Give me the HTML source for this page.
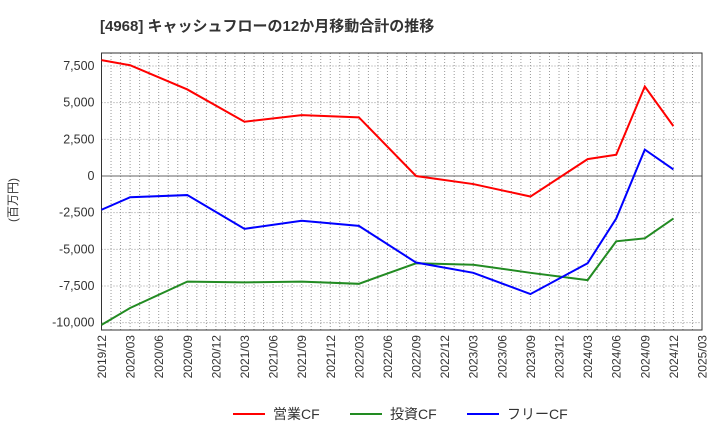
<!DOCTYPE html>
<html><head><meta charset="utf-8"><style>
body{margin:0;background:#fff;font-family:"Liberation Sans","Noto Sans CJK JP",sans-serif;}
</style></head><body>
<svg width="720" height="440" xmlns="http://www.w3.org/2000/svg">
<text x="100" y="31" font-size="15" font-weight="bold" fill="#333">[4968]  キャッシュフローの12か月移動合計の推移</text>
<text transform="translate(17,200) rotate(-90)" text-anchor="middle" font-size="12" fill="#333">(百万円)</text>
<g id="grid"></g><g id="axes"></g><g id="series"></g>
<g font-size="14" fill="#333">
<line x1="233" y1="414" x2="265" y2="414" stroke="#f00" stroke-width="2"/><text x="273" y="419">営業CF</text>
<line x1="350" y1="414" x2="382" y2="414" stroke="#228b22" stroke-width="2"/><text x="390" y="419">投資CF</text>
<line x1="467" y1="414" x2="499" y2="414" stroke="#00f" stroke-width="2"/><text x="507" y="419">フリーCF</text>
</g>
</svg>
<script>
const categories=["2019/12","2020/03","2020/06","2020/09","2020/12","2021/03","2021/06","2021/09","2021/12","2022/03","2022/06","2022/09","2022/12","2023/03","2023/06","2023/09","2023/12","2024/03","2024/06","2024/09","2024/12","2025/03"];
const opQ=[0,1,3,5,7,9,11,13,15,17,18,19,20];
const operatingCF=[7900,7550,5900,3700,4150,4000,0,-550,-1400,1150,1450,6100,3400];
const investingCF=[-10150,-9000,-7200,-7250,-7200,-7350,-5950,-6050,-6600,-7100,-4450,-4250,-2900];
const freeCF=[-2300,-1450,-1300,-3600,-3050,-3400,-5900,-6600,-8050,-5950,-2900,1800,450];
const yTicks=[7500,5000,2500,0,-2500,-5000,-7500,-10000];
const L=101.5,R=702,T=53,B=330;
const x=q=>L+q*(R-L)/21;
const y=v=>176-v*36.67/2500;
const NS="http://www.w3.org/2000/svg";
function mk(p,tag,a){const e=document.createElementNS(NS,tag);for(const k in a)e.setAttribute(k,a[k]);p.appendChild(e);return e;}
const grid=document.getElementById('grid'),axes=document.getElementById('axes'),ser=document.getElementById('series');
for(let m=1;m<63;m++){const xx=L+m*(R-L)/63;const l=mk(grid,'line',{x1:xx,y1:T,x2:xx,y2:B,stroke:'#999','stroke-dasharray':'1,2','stroke-width':1});

}
yTicks.forEach(v=>{const l=mk(grid,'line',{x1:L,y1:y(v),x2:R,y2:y(v),stroke:v===0?'#666':'#999','stroke-dasharray':v===0?'none':'1,2','stroke-width':1});


const t=mk(axes,'text',{x:L-7,y:y(v)+4,'text-anchor':'end','font-size':12.5,fill:'#333'});t.textContent=v.toLocaleString('en-US');

});
const fr=mk(axes,'rect',{x:L,y:T,width:R-L,height:B-T,fill:'none',stroke:'#333','stroke-width':1});


categories.forEach((c,i)=>{const t=mk(axes,'text',{transform:`translate(${x(i)+4.5},${B+5}) rotate(-90)`,'text-anchor':'end','font-size':12,fill:'#333'});t.textContent=c;

});
[[operatingCF,'#f00','operating-cf-line'],[investingCF,'#228b22','investing-cf-line'],[freeCF,'#00f','free-cf-line']].forEach(([d,c,n])=>{
const p=mk(ser,'polyline',{points:d.map((v,i)=>x(opQ[i])+','+y(v)).join(' '),fill:'none',stroke:c,'stroke-width':2});

});
</script>
</body></html>
